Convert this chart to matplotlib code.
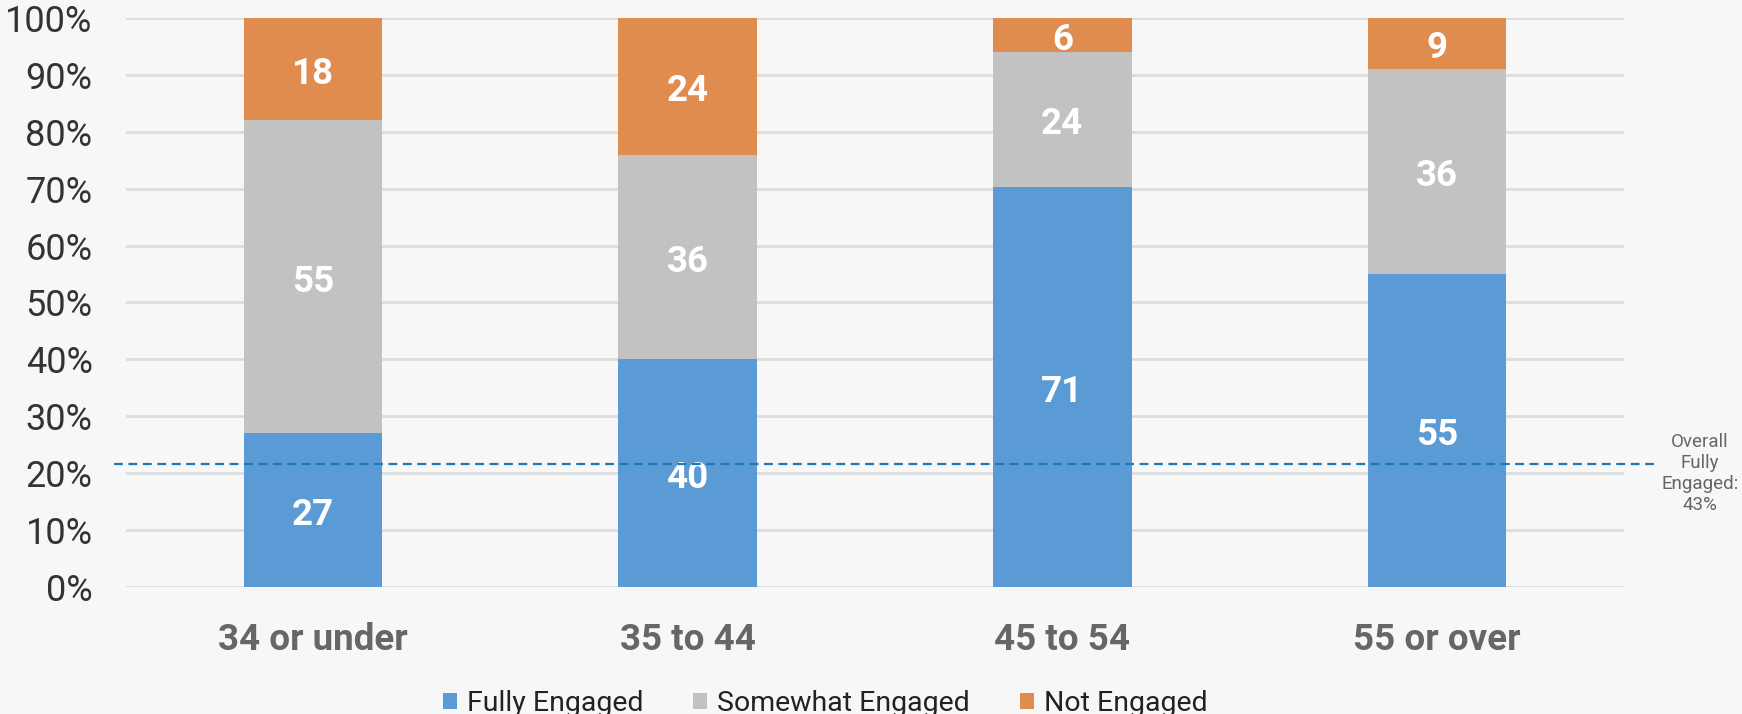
import matplotlib.pyplot as plt
import numpy as np

plt.rcParams['font.family'] = ['Roboto', 'DejaVu Sans']

categories = ['34 or under', '35 to 44', '45 to 54', '55 or over']
fully = [27, 40, 71, 55]
somewhat = [55, 36, 24, 36]
not_engaged = [18, 24, 6, 9]
overall_line = 21.7
overall_label = 'Overall\nFully\nEngaged:\n43%'

series = [('Fully Engaged', fully, '#5b9bd5'),
          ('Somewhat Engaged', somewhat, '#c2c2c2'),
          ('Not Engaged', not_engaged, '#e08c4f')]

# 100% stacked: scale each column to its total
totals = np.array(fully) + np.array(somewhat) + np.array(not_engaged)

bg = '#f7f7f7'
fig = plt.figure(figsize=(17.42, 7.14), dpi=100, facecolor=bg)
ax = fig.add_axes([0.0723, 0.1779, 0.86, 0.7969], facecolor=bg)

x = np.arange(len(categories))
bottom = np.zeros(len(categories))
for name, vals, color in series:
    h = np.array(vals) / totals * 100
    ax.bar(x, h, 0.37, bottom=bottom, color=color, label=name, zorder=2)
    for xi, b, hi, v in zip(x, bottom, h, vals):
        ax.annotate(str(v), (xi, b + hi / 2), xytext=(0, -3.5),
                    textcoords='offset points', ha='center', va='center',
                    color='white', fontsize=26.5, fontweight='bold', zorder=3)
    bottom += h

ax.axhline(overall_line, xmin=-0.008, xmax=1.021, color='#1f77b4',
           linestyle=(0, (4, 2.5)), linewidth=1.6, clip_on=False, zorder=4)
ax.text(1.0507, 0.2, overall_label, transform=ax.transAxes, ha='center',
        va='center', fontsize=13.5, color='#666666', linespacing=1.22)

ax.set_xlim(-0.5, len(categories) - 0.5)
ax.set_ylim(0, 100)
ax.set_yticks(np.arange(0, 101, 10))
ax.set_yticklabels([f'{v}%' for v in range(0, 101, 10)])
ax.set_xticks(x)
ax.set_xticklabels(categories, fontsize=26.5, fontweight='bold', color='#666666')
ax.tick_params(axis='y', length=0, pad=24, labelsize=26, labelcolor='#333333')
ax.tick_params(axis='x', length=0, pad=25)
ax.grid(axis='y', color='#dddddd', linewidth=2, zorder=0)
ax.set_axisbelow(True)
for s in ax.spines.values():
    s.set_visible(False)

fig.legend(loc='center', bbox_to_anchor=(0.4737, 0.015), ncol=3, frameon=False,
           fontsize=20.5, handlelength=0.5, handleheight=0.5, handletextpad=0.35,
           columnspacing=1.75, labelcolor='#222222')

fig.savefig('out.png', dpi=100, facecolor=bg)
